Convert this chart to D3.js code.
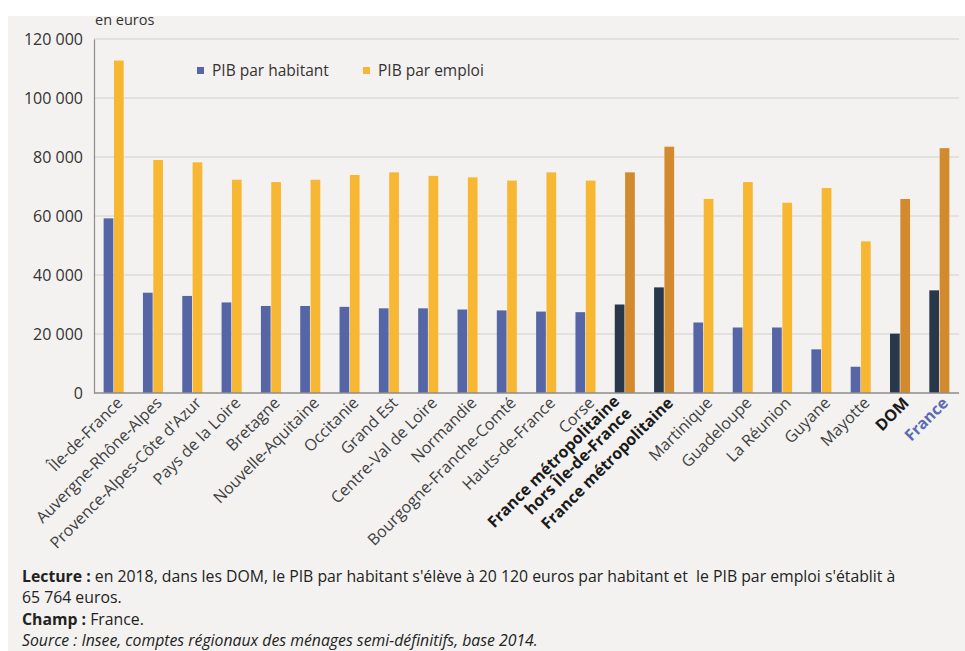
<!DOCTYPE html>
<html><head><meta charset="utf-8">
<script src="https://cdn.jsdelivr.net/npm/d3@7"></script>
<style>
html,body{margin:0;padding:0;background:#fff;}
svg{display:block;font-family:"Open Sans","Noto Sans",sans-serif;}
</style></head>
<body>
<svg id="chart" width="965" height="651"></svg>
<script>
const categories = ["Île-de-France","Auvergne-Rhône-Alpes","Provence-Alpes-Côte d'Azur","Pays de la Loire","Bretagne","Nouvelle-Aquitaine","Occitanie","Grand Est","Centre-Val de Loire","Normandie","Bourgogne-Franche-Comté","Hauts-de-France","Corse","France métropolitaine hors Île-de-France","France métropolitaine","Martinique","Guadeloupe","La Réunion","Guyane","Mayotte","DOM","France"];
const pibHabitant = [59200,34000,32900,30700,29500,29500,29200,28700,28700,28300,28000,27600,27400,30000,35800,23900,22200,22200,14800,8900,20120,34800];
const pibEmploi = [112700,79000,78200,72300,71500,72300,73900,74800,73600,73100,72000,74800,72000,74800,83500,65800,71500,64500,69500,51400,65764,83000];
const aggregates = ["France métropolitaine hors Île-de-France","France métropolitaine","DOM","France"];
const yTicks = [0,20000,40000,60000,80000,100000,120000];
const seriesNames = ["PIB par habitant","PIB par emploi"];
const unitLabel = "en euros";
const footer = [
  [["Lecture : ","bold"],["en 2018, dans les DOM, le PIB par habitant s'élève à 20 120 euros par habitant et  le PIB par emploi s'établit à","normal"]],
  [["65 764 euros.","normal"]],
  [["Champ : ","bold"],["France.","normal"]],
  [["Source : Insee, comptes régionaux des ménages semi-définitifs, base 2014.","italic"]]
];

(function(){
const colors = {hab:"#5565a6", emp:"#f8b733", habAgg:"#283749", empAgg:"#d38a2e"};

const svg = d3.select("#chart");
svg.append("rect").attr("x",8).attr("y",16).attr("width",957).attr("height",635).attr("fill","#f3f2f0");

const fr = d3.formatLocale({decimal:",", thousands:" ", grouping:[3], currency:["","€"]});
const fmt = fr.format(",");

const pL = 94, pR = 959, pT = 39, pB = 393;
const x = d3.scaleBand().domain(categories).range([pL,pR]).paddingInner(0.49).paddingOuter(0.245);
const xs = d3.scaleBand().domain(["hab","emp"]).range([0,x.bandwidth()]).paddingInner(0.06);
const y = d3.scaleLinear().domain([0,120000]).range([pB,pT]);

svg.append("g").selectAll("line").data(yTicks.filter(d=>d>0)).join("line")
  .attr("x1",pL).attr("x2",pR).attr("y1",d=>y(d)).attr("y2",d=>y(d))
  .attr("stroke","#dcdbd9").attr("stroke-width",1.5);

const yAxis = svg.append("g").attr("transform",`translate(${pL},0)`)
  .call(d3.axisLeft(y).tickValues(yTicks).tickFormat(fmt).tickSize(0).tickPadding(11));
yAxis.select(".domain").attr("stroke","#8c8c8c").attr("stroke-width",1.2);
yAxis.selectAll("text").attr("font-size",16).attr("fill","#333").attr("font-family","Open Sans");

svg.append("text").attr("x",pL+1).attr("y",25).attr("font-size",14.5).attr("fill","#333").text(unitLabel);

const data = categories.map((c,i)=>({c, hab:pibHabitant[i], emp:pibEmploi[i], agg:aggregates.includes(c)}));
const groups = svg.append("g").selectAll("g").data(data).join("g")
  .attr("transform",d=>`translate(${x(d.c)},0)`);
groups.selectAll("rect").data(d=>[{k:"hab",v:d.hab,agg:d.agg},{k:"emp",v:d.emp,agg:d.agg}]).join("rect")
  .attr("x",d=>xs(d.k)).attr("width",xs.bandwidth())
  .attr("y",d=>y(d.v)).attr("height",d=>y(0)-y(d.v))
  .attr("fill",d=>d.agg ? (d.k==="hab"?colors.habAgg:colors.empAgg) : (d.k==="hab"?colors.hab:colors.emp));

svg.append("line").attr("x1",pL).attr("x2",pR).attr("y1",y(0)).attr("y2",y(0))
  .attr("stroke","#8c8c8c").attr("stroke-width",1.5);

const xl = svg.append("g").selectAll("g").data(categories).join("g")
  .attr("transform",d=>`translate(${x(d)+x.bandwidth()/2+6},${pB+7}) rotate(-45)`);
xl.each(function(d){
  const lines = d.includes(" hors ") ? [d.slice(0,d.indexOf(" hors ")), d.slice(d.indexOf(" hors ")+1)] : [d];
  const multi = lines.length > 1;
  const t = d3.select(this).append("text").attr("text-anchor","end").attr("font-size",16)
    .attr("font-weight",aggregates.includes(d)?"bold":"normal")
    .attr("fill", d==="France" ? "#5b6bb5" : (aggregates.includes(d)?"#1a1a1a":"#404040"));
  lines.forEach((ln,i)=>{
    t.append("tspan").attr("x", multi ? -9 : 0)
      .attr("dy", i===0 ? (multi ? "-0.35em" : "0.35em") : "1.07em").text(ln);
  });
});

const leg = svg.append("g");
const legX = [197,363];
seriesNames.forEach((s,i)=>{
  leg.append("rect").attr("x",legX[i]).attr("y",67).attr("width",7).attr("height",7)
    .attr("fill", i===0?colors.hab:colors.emp);
  leg.append("text").attr("x",legX[i]+15).attr("y",76).attr("font-size",15.5).attr("fill","#333").text(s);
});

const fb = [582,603,625,646];
footer.forEach((line,i)=>{
  const t = svg.append("text").attr("x",22).attr("y",fb[i]).attr("font-size",15.8).attr("fill","#222")
    .style("white-space","pre");
  line.forEach(([s,st])=>{
    t.append("tspan").attr("font-weight",st==="bold"?"bold":"normal")
     .attr("font-style",st==="italic"?"italic":"normal").text(s);
  });
});
})();
</script>
</body></html>
